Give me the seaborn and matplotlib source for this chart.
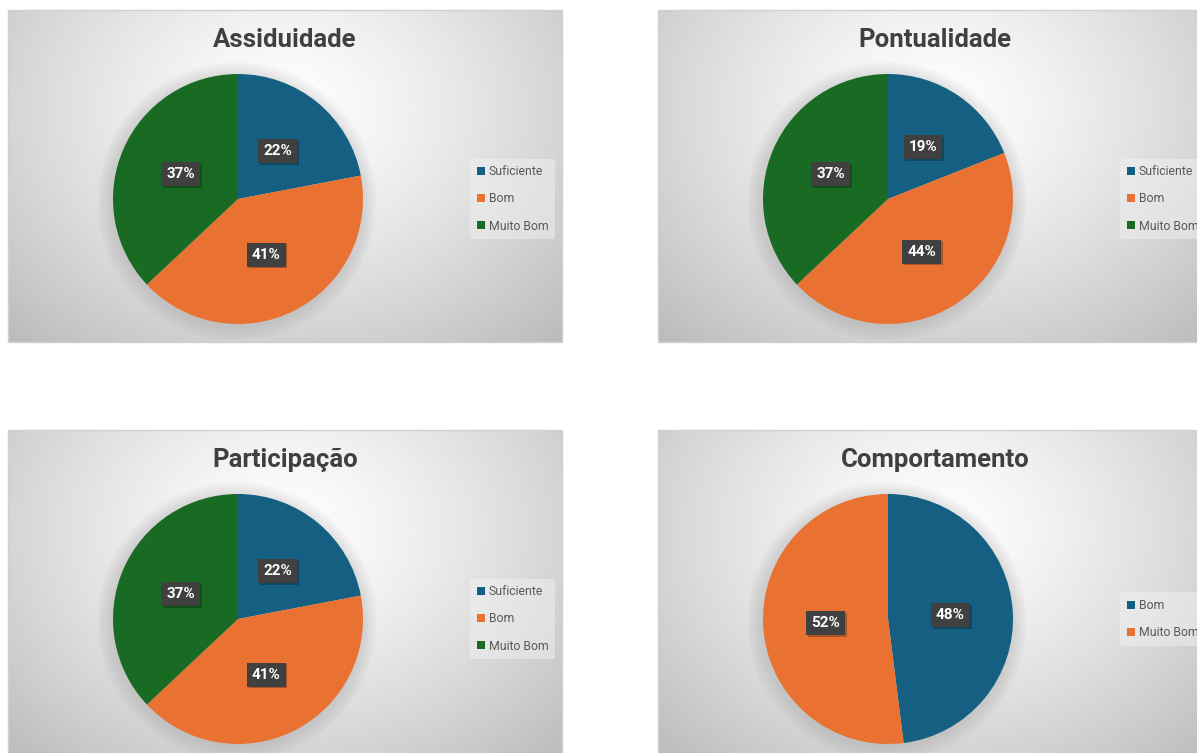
import numpy as np
import matplotlib
matplotlib.use("Agg")
import matplotlib.pyplot as plt
import matplotlib.transforms as mtransforms
from matplotlib.patches import Patch, Circle, Rectangle
import seaborn as sns

# ---------------- data ----------------
titles = ["Assiduidade", "Pontualidade", "Participação", "Comportamento"]
categories3 = ["Suficiente", "Bom", "Muito Bom"]
categories2 = ["Bom", "Muito Bom"]
assiduidade = [22, 41, 37]
pontualidade = [19, 44, 37]
participacao = [22, 41, 37]
comportamento = [48, 52]

# ---------------- style ----------------
sns.set_theme(style="white")
plt.rcParams['font.family'] = ['Roboto', 'DejaVu Sans']
palette = sns.color_palette(["#156082", "#E97132", "#196B24"])

W, H = 1197, 753
fig = plt.figure(figsize=(W / 100, H / 100), dpi=100)
fig.patch.set_facecolor("white")


def px_rect(x0, y0, w, h):
    return [x0 / W, 1 - (y0 + h) / H, w / W, h / H]


PW, PH = 554, 332
R = 125
panels = [
    (8, 10, titles[0], categories3, assiduidade),
    (658, 10, titles[1], categories3, pontualidade),
    (8, 430, titles[2], categories3, participacao),
    (658, 430, titles[3], categories2, comportamento),
]

# radial gradient background
ny, nx = 240, 400
yy, xx = np.mgrid[0:1:ny * 1j, 0:1:nx * 1j]
d = np.sqrt(((xx - 0.5) / 0.6) ** 2 + ((yy - 0.3) / 0.8) ** 2)
grad = 1 - 0.21 * np.clip(d, 0, 1.25) ** 1.3
grad_rgb = np.dstack([grad, grad, grad])

for (px, py, title, cats, vals) in panels:
    bg = fig.add_axes(px_rect(px, py, PW, PH), zorder=0)
    bg.imshow(grad_rgb, extent=[0, 1, 1, 0], aspect="auto", interpolation="bicubic")
    bg.set_xlim(0, 1)
    bg.set_ylim(1, 0)
    bg.set_axis_off()
    bg.add_patch(Rectangle((0, 0), 1, 1, transform=bg.transAxes, fill=False,
                           edgecolor="#d0d0d0", linewidth=1.0, clip_on=False))

    # title
    fig.text((px + PW / 2) / W, 1 - (py + 30) / H, title, ha="center", va="center",
             fontsize=18.5, fontweight="bold", color="#404040", zorder=5)

    cx, cy = px + 230, py + 189
    ax = fig.add_axes(px_rect(cx - R - 15, cy - R - 15, 2 * R + 30, 2 * R + 30), zorder=2)
    ax.set_axis_off()
    # soft halo behind the pie
    for k in range(10):
        ax.add_patch(Circle((-0.01, -0.02), 1.0 + 0.012 * (k + 1), color="#808080",
                            alpha=0.025, linewidth=0, zorder=0))
    wedges, texts, autotexts = ax.pie(
        vals, colors=palette[:len(vals)], startangle=90, counterclock=False,
        autopct=lambda p: f"{p:.0f}%", pctdistance=0.5, radius=1.0,
        wedgeprops=dict(linewidth=0))
    for w in wedges:
        w.set_zorder(1)
    for t in autotexts:
        t.set_color("white")
        t.set_fontweight("bold")
        t.set_fontsize(11)
        t.set_bbox(dict(boxstyle="square,pad=0.33", facecolor="#404040", edgecolor="none"))
        t.set_zorder(4)
        x, y = t.get_position()
        shadow_tr = t.get_transform() + mtransforms.ScaledTranslation(1.2 / 72, -1.2 / 72, fig.dpi_scale_trans)
        ax.text(x, y, t.get_text(), transform=shadow_tr, ha="center", va="center",
                fontsize=11, fontweight="bold", color=(0, 0, 0, 0),
                bbox=dict(boxstyle="square,pad=0.33", facecolor="black", alpha=0.25, edgecolor="none"),
                zorder=3)
    lim = (R + 15) / R
    ax.set_xlim(-lim, lim)
    ax.set_ylim(-lim, lim)
    ax.set_aspect("equal")

    handles = [Patch(facecolor=palette[i], edgecolor="none", label=c) for i, c in enumerate(cats)]
    leg = fig.legend(handles=handles, loc="center left",
                     bbox_to_anchor=((px + 462) / W, 1 - cy / H),
                     frameon=True, fontsize=8.8, labelcolor="#595959",
                     handlelength=0.65, handleheight=0.65, handletextpad=0.35,
                     labelspacing=1.15, borderpad=0.55, borderaxespad=0)
    leg.get_frame().set_facecolor("#f4f4f4")
    leg.get_frame().set_alpha(0.45)
    leg.get_frame().set_edgecolor("none")
    leg.set_zorder(6)

fig.savefig("out.png", dpi=100, facecolor="white")
